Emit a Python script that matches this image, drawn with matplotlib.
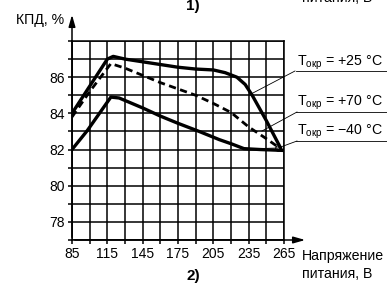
import matplotlib
matplotlib.use('Agg')
import matplotlib.pyplot as plt

plt.rcParams['font.family'] = ['Liberation Sans Narrow', 'Liberation Sans', 'DejaVu Sans']

# ── data ────────────────────────────────────────────────────────────────────
u_25 = [85, 100, 115, 120, 130, 145, 160, 175, 190, 205, 215, 225, 232, 238, 250, 262]
eff_25 = [84.0, 85.5, 87.0, 87.15, 87.0, 86.85, 86.7, 86.55, 86.45, 86.4, 86.25, 86.0, 85.6, 85.0, 83.6, 82.1]

u_70 = [85, 100, 118, 130, 145, 160, 175, 190, 205, 220, 235, 250, 262]
eff_70 = [83.8, 85.2, 86.75, 86.5, 86.1, 85.7, 85.35, 85.0, 84.55, 84.05, 83.25, 82.6, 82.05]

u_m40 = [85, 98, 118, 125, 145, 160, 175, 193, 210, 221, 231, 245, 265]
eff_m40 = [82.0, 83.05, 84.9, 84.85, 84.3, 83.85, 83.45, 83.0, 82.55, 82.3, 82.05, 82.0, 81.95]

x_ticks = [85, 115, 145, 175, 205, 235, 265]
y_ticks = [78, 80, 82, 84, 86]
labels = ['+25', '+70', '\u221240']

W, H = 387, 284
FS = 10.2
fig = plt.figure(figsize=(W / 100, H / 100), dpi=100)
ax = fig.add_axes([72 / W, 1 - 240 / H, 212 / W, 199 / H])

X0, X1, Y0, Y1 = 85, 265, 77, 88
def d(px, py):
    # pixel position -> data coordinates
    return (X0 + (px - 72) * (X1 - X0) / 212.0,
            Y1 - (py - 41) * (Y1 - Y0) / 199.0)

ax.set_xlim(X0, X1)
ax.set_ylim(Y0, Y1)
ax.set_xticks(range(85, 266, 15), minor=True)
ax.set_yticks(range(77, 89), minor=True)
ax.set_xticks(x_ticks)
ax.set_yticks(y_ticks)
ax.grid(True, which='both', color='black', lw=1.1)
ax.tick_params(which='both', direction='out', length=3, width=1.1, color='black',
               labelsize=10, pad=2)
for s in ax.spines.values():
    s.set_linewidth(1.1)

ax.plot(u_25, eff_25, color='black', lw=2.4, solid_joinstyle='round', zorder=4)
ax.plot(u_70, eff_70, color='black', lw=2.0, ls=(0, (2.6, 1.6)), zorder=4)
ax.plot(u_m40, eff_m40, color='black', lw=2.4, solid_joinstyle='round', zorder=4)

# axis arrows
ax.annotate('', xy=d(72, 12), xytext=d(72, 240), annotation_clip=False,
            arrowprops=dict(arrowstyle='-|>,head_length=0.7,head_width=0.2', color='black', lw=1.1))
ax.annotate('', xy=d(308, 240), xytext=d(72, 240), annotation_clip=False,
            arrowprops=dict(arrowstyle='-|>,head_length=0.7,head_width=0.2', color='black', lw=1.1))

# leader lines and labels
leaders = [[(295, 71), (251, 94)],
           [(297, 112), (262, 131)],
           [(297, 141), (278, 148), (245, 149)]]
underline_y = [71, 112, 141]
text_y = [66, 106, 135]
for lab, pts, uy, ty in zip(labels, leaders, underline_y, text_y):
    xs, ys = zip(*[d(px, py) for px, py in pts])
    ax.plot(xs, ys, color='black', lw=0.6, clip_on=False, zorder=5)
    ax.plot(*zip(d(296, uy), d(390, uy)), color='black', lw=0.6, clip_on=False)
    fig.text(297 / W, 1 - ty / H, r'T$_{\mathregular{окр}}$ = ' + lab + ' \u00b0C',
             fontsize=FS, va='baseline', ha='left')
ax.plot(*d(278, 148), marker='o', ms=4, mfc='none', mec='black', mew=0.8,
        clip_on=False, zorder=6)

fig.text(16 / W, 1 - 24 / H, 'КПД, %', fontsize=FS, va='baseline', ha='left')
fig.text(302 / W, 1 - 260 / H, 'Напряжение', fontsize=FS, va='baseline', ha='left')
fig.text(302 / W, 1 - 278 / H, 'питания, В', fontsize=FS, va='baseline', ha='left')
fig.text(193 / W, 1 - 280 / H, '2)', fontsize=11, fontweight='bold',
         va='baseline', ha='center')
# remnants of the neighbouring figure, cut by the top edge as in the source
fig.text(193 / W, 1 - 10 / H, '1)', fontsize=11, fontweight='bold',
         va='baseline', ha='center')
fig.text(302 / W, 1 - 2 / H, 'питания, В', fontsize=FS, va='baseline', ha='left')

fig.savefig('out.png', dpi=100)
